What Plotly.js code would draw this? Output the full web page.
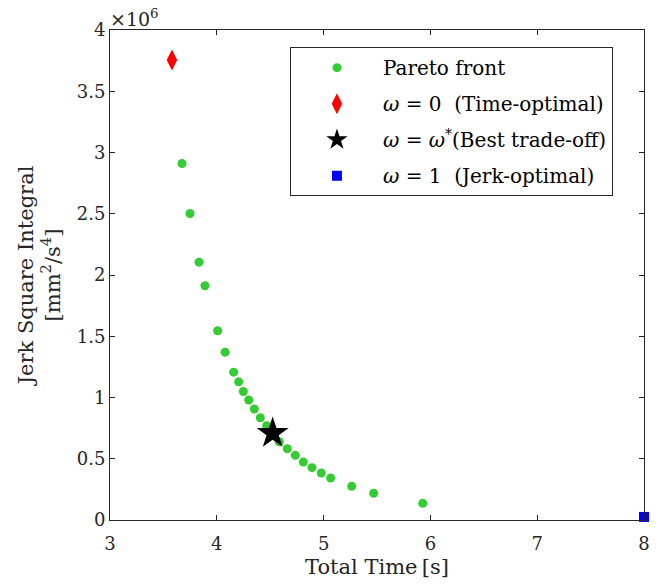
<!DOCTYPE html>
<html>
<head>
<meta charset="utf-8">
<script src="https://cdn.plot.ly/plotly-3.0.1.min.js"></script>
<style>html,body{margin:0;padding:0;background:#fff;}#plot{width:659px;height:587px;}</style>
</head>
<body>
<div id="plot"></div>
<script>
// Pareto front: total time [s] vs jerk square integral [x10^6 mm^2/s^4]
const paretoTime = [3.674, 3.749, 3.833, 3.889, 4.008, 4.077, 4.158, 4.205, 4.248, 4.299, 4.351, 4.407, 4.467, 4.523, 4.585, 4.660, 4.735, 4.810, 4.891, 4.978, 5.066, 5.263, 5.469, 5.928];
const paretoJerkE6 = [2.910, 2.502, 2.105, 1.912, 1.545, 1.370, 1.207, 1.128, 1.049, 0.980, 0.906, 0.835, 0.770, 0.708, 0.639, 0.582, 0.528, 0.473, 0.427, 0.384, 0.343, 0.275, 0.218, 0.136];
const timeOptTime = [3.58];
const timeOptJerkE6 = [3.755];
const bestTime = [4.523];
const bestJerkE6 = [0.708];
const jerkOptTime = [8.0];
const jerkOptJerkE6 = [0.025];
const names = ['Pareto front',
  '<i>ω</i> = 0\u00a0\u00a0(Time-optimal)',
  '<i>ω</i> = <i>ω</i><sup>*</sup>(Best trade-off)',
  '<i>ω</i> = 1\u00a0\u00a0(Jerk-optimal)'];
const xTicks = [3, 4, 5, 6, 7, 8];
const yTicks = [0, 0.5, 1, 1.5, 2, 2.5, 3, 3.5, 4];
const yTickText = ['0', '0.5', '1', '1.5', '2', '2.5', '3', '3.5', '4'];

const font = 'DejaVu Serif, Liberation Serif, serif';
const txt = '#262626';

const traces = [
  {x: paretoTime, y: paretoJerkE6, mode: 'markers', type: 'scatter', name: names[0], legendgroup: 'a',
   marker: {color: '#33cc33', size: 9, symbol: 'circle'}},
  {x: timeOptTime, y: timeOptJerkE6, mode: 'markers', type: 'scatter', name: names[1], legendgroup: 'b',
   marker: {color: '#ff0000', size: 15, symbol: 'diamond-tall'}},
  {x: bestTime, y: bestJerkE6, mode: 'markers', type: 'scatter', name: names[2], legendgroup: 'c',
   marker: {color: '#000000', size: 24, symbol: 'star'}},
  {x: jerkOptTime, y: jerkOptJerkE6, mode: 'markers', type: 'scatter', name: names[3], legendgroup: 'd',
   marker: {color: '#0000ff', size: 10, symbol: 'square'}, cliponaxis: false}
];

const layout = {
  width: 659, height: 587,
  margin: {l: 110, r: 15, t: 30, b: 67},
  paper_bgcolor: '#fff', plot_bgcolor: '#fff',
  font: {family: font, size: 17, color: txt},
  showlegend: true,
  legend: {x: 0.337, y: 0.965, xanchor: 'left', yanchor: 'top',
    bordercolor: '#262626', borderwidth: 1, bgcolor: '#fff',
    font: {family: font, size: 20, color: '#000'},
    tracegroupgap: 7, itemwidth: 82},
  xaxis: {range: [3, 8], tickvals: xTicks, ticks: 'inside', ticklen: 5, tickcolor: txt,
    showline: true, linecolor: txt, linewidth: 1, mirror: 'ticks', showgrid: false, zeroline: false,
    tickfont: {family: font, size: 18, color: txt}, ticklabelstandoff: 7,
    title: {text: 'Total Time\u2009[s]', font: {family: font, size: 21, color: txt}, standoff: 6}},
  yaxis: {range: [0, 4], tickvals: yTicks, ticktext: yTickText, ticks: 'inside', ticklen: 5, tickcolor: txt,
    showline: true, linecolor: txt, linewidth: 1, mirror: 'ticks', showgrid: false, zeroline: false,
    tickfont: {family: font, size: 18, color: txt},
    title: {text: 'Jerk Square Integral<br>[mm<sup>2</sup>/s<sup>4</sup>]', font: {family: font, size: 21, color: txt}, standoff: 10}},
  annotations: [
    {text: '×10<sup>6</sup>', xref: 'paper', yref: 'paper', x: 0, y: 1, xanchor: 'left', yanchor: 'bottom',
     showarrow: false, font: {family: font, size: 19, color: txt}, xshift: -2, yshift: -2}
  ]
};

Plotly.newPlot('plot', traces, layout, {displayModeBar: false, staticPlot: true});
</script>
</body>
</html>
